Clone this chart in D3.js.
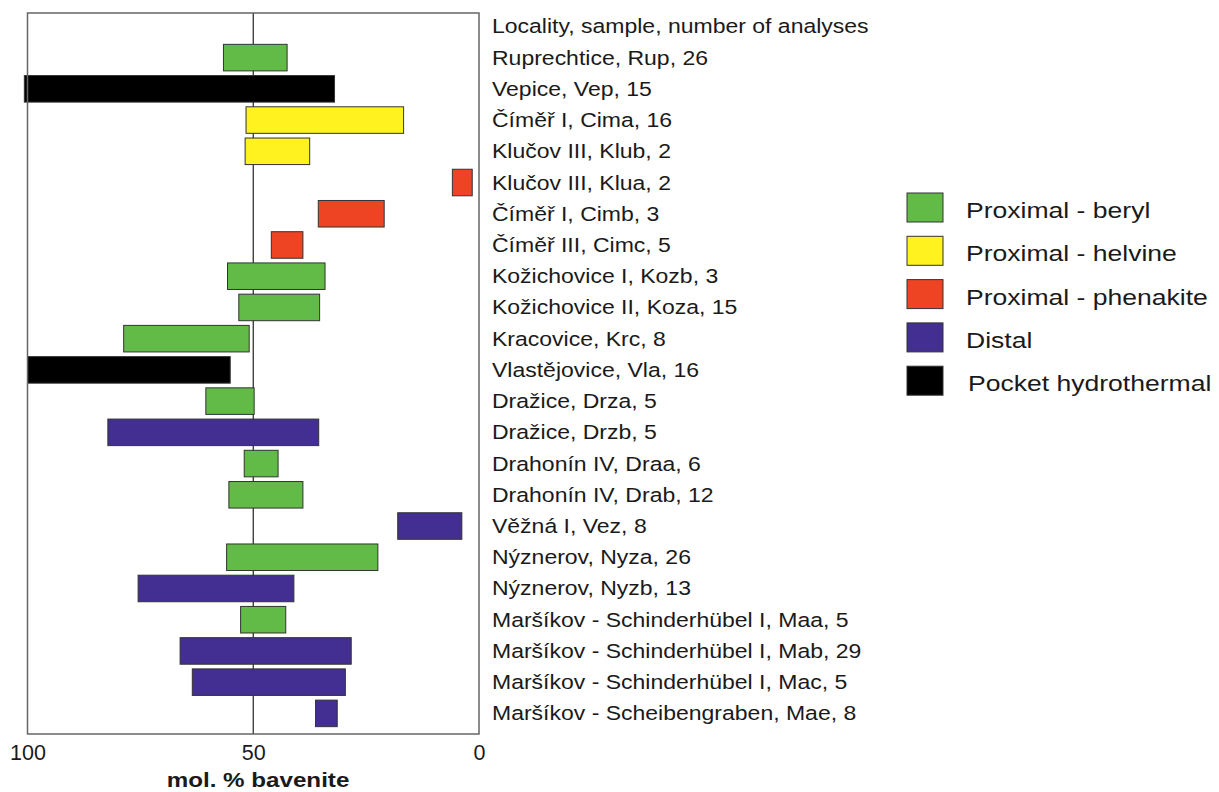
<!DOCTYPE html>
<html lang="en">
<head>
	<meta charset="utf-8">
	<title>Bavenite composition</title>
	<script src="https://cdn.jsdelivr.net/npm/d3@7"></script>
	<style>
		body { margin: 0; background: #fff; }
		text { font-family: "Liberation Sans", Arial, sans-serif; fill: #1a1a1a; }
	</style>
</head>
<body>
	<script>
	// Data: range of mol. % bavenite per sample
	var header = "Locality, sample, number of analyses";
	var labels = [
		"Ruprechtice, Rup, 26", "Vepice, Vep, 15", "Číměř I, Cima, 16", "Klučov III, Klub, 2",
		"Klučov III, Klua, 2", "Číměř I, Cimb, 3", "Číměř III, Cimc, 5", "Kožichovice I, Kozb, 3",
		"Kožichovice II, Koza, 15", "Kracovice, Krc, 8", "Vlastějovice, Vla, 16", "Dražice, Drza, 5",
		"Dražice, Drzb, 5", "Drahonín IV, Draa, 6", "Drahonín IV, Drab, 12", "Věžná I, Vez, 8",
		"Nýznerov, Nyza, 26", "Nýznerov, Nyzb, 13", "Maršíkov - Schinderhübel I, Maa, 5",
		"Maršíkov - Schinderhübel I, Mab, 29", "Maršíkov - Schinderhübel I, Mac, 5",
		"Maršíkov - Scheibengraben, Mae, 8"
	];
	var maxValues = [56.6, 100.7, 51.6, 51.8, 5.9, 35.6, 46.0, 55.7, 53.2, 78.7, 100, 60.5,
		82.2, 52.0, 55.4, 18.0, 55.9, 75.5, 52.8, 66.2, 63.5, 36.2];
	var minValues = [42.5, 32.0, 16.7, 37.5, 1.5, 21.0, 39.0, 34.1, 35.3, 50.9, 55.1, 49.8,
		35.5, 44.5, 39.0, 3.8, 22.4, 41.0, 42.8, 28.3, 29.6, 31.4];
	var groups = ["beryl", "pocket", "helvine", "helvine", "phenakite", "phenakite", "phenakite",
		"beryl", "beryl", "beryl", "pocket", "beryl", "distal", "beryl", "beryl", "distal",
		"beryl", "distal", "beryl", "distal", "distal", "distal"];
	var groupKeys = ["beryl", "helvine", "phenakite", "distal", "pocket"];
	var groupNames = ["Proximal - beryl", "Proximal - helvine", "Proximal - phenakite", "Distal", "Pocket hydrothermal"];
	var groupColors = ["#62bb46", "#fff21f", "#ee4423", "#432f92", "#000000"];
	var ticks = [100, 50, 0];

	var rows = labels.map(function(d, i) {
		return { label: d, max: maxValues[i], min: minValues[i], group: groups[i] };
	});

	var w = 1219, h = 792;
	// plot frame (note: "top" is reserved on window, so use frameTop)
	var frameLeft = 27.5, frameRight = 479, frameTop = 13, frameBottom = 734;
	var stretch = 1.18; // the text in the figure is drawn a bit wide

	var svg = d3.select("body").append("svg")
		.attr("width", w)
		.attr("height", h);

	// reversed x: 100 on the left, 0 on the right
	var x = d3.scaleLinear().domain([100, 0]).range([frameLeft, frameRight]);
	var y = d3.scaleBand().domain(labels).range([42, 729]).paddingInner(0.15).paddingOuter(0.075);
	var color = d3.scaleOrdinal().domain(groupKeys).range(groupColors);

	// 50 % line sits behind the bars
	svg.append("line")
		.attr("x1", x(50)).attr("x2", x(50))
		.attr("y1", frameTop).attr("y2", frameBottom)
		.attr("stroke", "#222").attr("stroke-width", 1.2);

	svg.selectAll("rect.bar")
		.data(rows)
		.enter()
		.append("rect")
		.attr("class", "bar")
		.attr("x", function(d) { return x(d.max); })
		.attr("width", function(d) { return x(d.min) - x(d.max); })
		.attr("y", function(d) { return y(d.label); })
		.attr("height", y.bandwidth())
		.attr("fill", function(d) { return color(d.group); })
		.attr("stroke", "#333")
		.attr("stroke-width", 1);

	// frame
	svg.append("rect")
		.attr("x", frameLeft).attr("y", frameTop)
		.attr("width", frameRight - frameLeft).attr("height", frameBottom - frameTop)
		.attr("fill", "none")
		.attr("stroke", "#666").attr("stroke-width", 1.5);

	// x axis labels
	var xAxis = d3.axisBottom(x).tickValues(ticks).tickSize(0).tickPadding(10);
	var gx = svg.append("g")
		.attr("transform", "translate(0," + frameBottom + ")")
		.call(xAxis);
	gx.select(".domain").remove();
	gx.selectAll("text")
		.attr("y", 26)
		.attr("dy", null)
		.style("font-size", "21.5px")
		.attr("fill", "#1a1a1a");

	svg.append("text")
		.attr("transform", "translate(258,787) scale(" + stretch + ",1)")
		.attr("text-anchor", "middle")
		.style("font-size", "20.5px")
		.style("font-weight", "bold")
		.text("mol. % bavenite");

	// sample labels on the right
	var labelY = function(d) { return y(d) + y.bandwidth() / 2 + 7; };
	svg.append("text")
		.attr("transform", "translate(492," + (labelY(labels[0]) - y.step()) + ") scale(" + stretch + ",1)")
		.style("font-size", "19.5px")
		.text(header);

	svg.selectAll("text.label")
		.data(rows)
		.enter()
		.append("text")
		.attr("class", "label")
		.attr("transform", function(d) { return "translate(492," + labelY(d.label) + ") scale(" + stretch + ",1)"; })
		.style("font-size", "19.5px")
		.text(function(d) { return d.label; });

	// legend
	var legend = svg.selectAll("g.legend")
		.data(groupKeys)
		.enter()
		.append("g")
		.attr("class", "legend")
		.attr("transform", function(d, i) { return "translate(907," + (193 + i * 43.3) + ")"; });

	legend.append("rect")
		.attr("width", 36).attr("height", 29)
		.attr("fill", function(d) { return color(d); })
		.attr("stroke", "#333");

	legend.append("text")
		.attr("transform", function(d, i) { return "translate(" + (i == 4 ? 61 : 59) + ",25) scale(" + stretch + ",1)"; })
		.style("font-size", "22.5px")
		.text(function(d, i) { return groupNames[i]; });
	</script>
</body>
</html>
